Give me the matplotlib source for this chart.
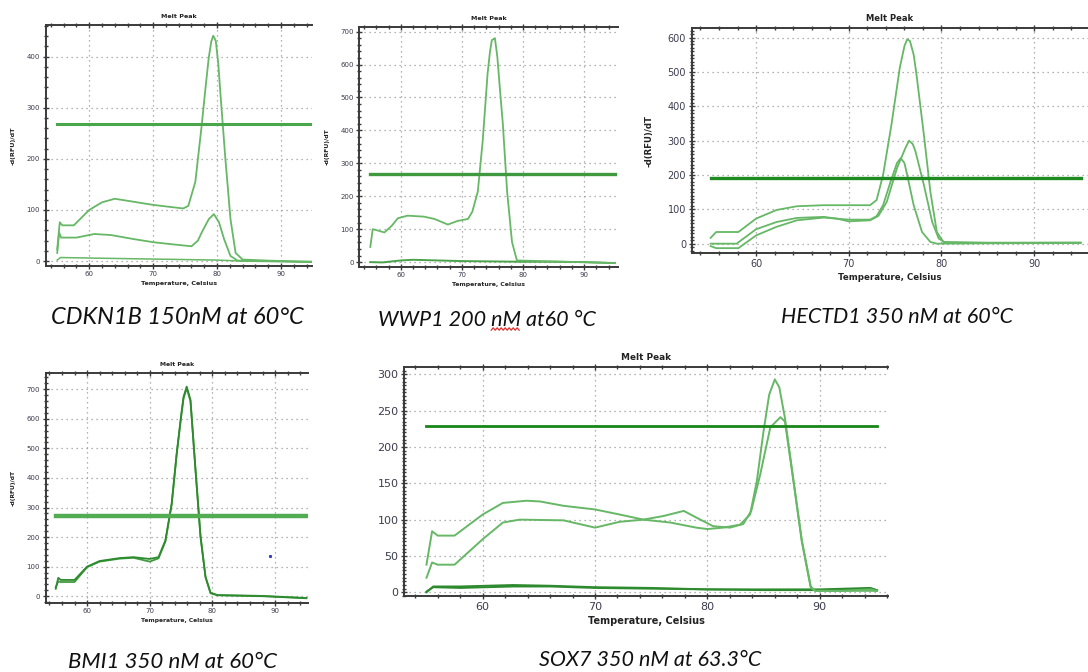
import matplotlib
matplotlib.use("Agg")
import matplotlib.pyplot as plt
from matplotlib.lines import Line2D
from matplotlib.ticker import MultipleLocator

# ---------------- data: melt peak curves (-d(RFU)/dT vs temperature) ----------------
# CDKN1B 150 nM
cdkn_t_a = [55.0, 55.4, 55.8, 57.6, 60.0, 62.0, 64.0, 66.0, 68.0, 70.0, 72.0, 74.7, 75.5, 76.6,
            77.6, 78.2, 78.7, 79.1, 79.4, 79.8, 80.2, 80.5, 81.3, 82.1, 82.9, 84.0, 88.0, 95.0]
cdkn_v_a = [23, 76, 70, 70, 100, 115, 122, 118, 114, 110, 107, 103, 108, 155,
            266, 340, 398, 430, 441, 431, 385, 332, 200, 82, 16, 3, 1, -2]
cdkn_t_b = [55.0, 55.3, 55.6, 58.0, 60.8, 63.4, 67.0, 70.0, 72.9, 76.0, 77.0, 77.6, 78.7, 79.5,
            80.3, 81.1, 82.1, 83.2, 88.0, 95.0]
cdkn_v_b = [16, 56, 46, 46, 53, 51, 43, 37, 33, 29, 40, 56, 82, 92, 76, 43, 10, 1, 0, -1]
cdkn_t_c = [55.0, 55.5, 60.0, 65.0, 70.0, 75.0, 80.0, 84.0, 90.0, 95.0]
cdkn_v_c = [2, 7, 6, 5, 4, 3, 2, 0, -1, -2]
cdkn_thr = 268

# WWP1 200 nM
wwp_t_a = [55.0, 55.4, 56.2, 57.3, 58.5, 59.5, 61.1, 63.8, 65.5, 67.7, 69.3, 71.0, 71.7, 72.6,
           73.4, 74.2, 74.6, 74.9, 75.4, 75.8, 76.2, 76.7, 77.4, 78.2, 79.0, 85.0, 95.0]
wwp_v_a = [46, 100, 96, 90, 110, 133, 141, 138, 131, 114, 125, 131, 153, 214,
           368, 572, 640, 674, 680, 623, 530, 419, 214, 61, 5, 2, -3]
wwp_t_b = [55.0, 57.0, 60.0, 62.0, 66.0, 70.0, 75.0, 80.0, 85.0, 90.0, 95.0]
wwp_v_b = [0, -1, 5, 7, 5, 3, 2, 1, 1, 0, -3]
wwp_thr = 266

# HECTD1 350 nM
hect_t_a = [55.1, 55.7, 58.1, 60.0, 62.2, 64.4, 67.3, 70.0, 72.3, 73.0, 73.7, 74.6, 75.5, 76.0,
            76.3, 76.6, 77.0, 77.3, 78.1, 78.8, 79.5, 80.2, 85.0, 95.0]
hect_v_a = [17, 34, 34, 73, 98, 109, 112, 112, 112, 127, 200, 346, 512, 575,
            595, 590, 550, 493, 317, 151, 34, 5, 3, 3]
hect_t_b = [55.1, 57.9, 60.0, 62.2, 64.4, 67.3, 68.7, 70.0, 72.3, 73.2, 74.1, 75.2, 76.1, 76.5,
            76.9, 77.2, 78.1, 79.0, 79.7, 80.4, 85.0, 95.0]
hect_v_b = [0, 0, 42, 63, 75, 78, 73, 65, 68, 81, 122, 220, 278, 300, 290, 268, 171, 63, 15, 3,
            2, 3]
hect_t_c = [55.1, 55.7, 58.1, 60.0, 62.2, 64.4, 67.3, 70.0, 72.3, 73.0, 73.7, 74.5, 75.2, 75.6,
            76.0, 76.3, 77.0, 77.9, 78.8, 79.5, 85.0, 95.0]
hect_v_c = [-7, -13, -13, 24, 49, 68, 76, 70, 70, 80, 112, 180, 235, 249, 235, 200, 112, 34, 5,
            0, 1, 2]
hect_thr = 190

# BMI1 350 nM
bmi_t = [55.0, 55.4, 55.8, 58.0, 60.0, 62.0, 65.2, 67.4, 70.0, 71.4, 72.5, 73.5, 74.3, 75.0,
         75.4, 75.9, 76.5, 77.3, 78.1, 78.9, 79.7, 80.8, 88.0, 95.0]
bmi_v_a = [25, 62, 55, 55, 100, 119, 129, 132, 126, 132, 189, 313, 483, 610,
           675, 709, 664, 426, 200, 64, 10, 3, 0, -7]
bmi_v_b = [30, 50, 48, 48, 98, 117, 127, 130, 117, 128, 185, 310, 480, 605,
           670, 703, 660, 430, 205, 66, 12, 4, 1, -6]
bmi_thr = 271
bmi_dot_t = [89.2]
bmi_dot_v = [135]

# SOX7 350 nM
sox_t_a = [55.0, 55.5, 56.0, 57.5, 60.0, 61.8, 63.9, 65.1, 67.2, 70.0, 72.2, 74.3, 76.7, 79.0,
           80.0, 81.4, 82.9, 83.8, 84.4, 85.0, 85.5, 86.0, 86.4, 86.9, 87.7, 88.4, 89.2, 89.6,
           92.0, 94.5, 95.1]
sox_v_a = [38, 84, 78, 78, 107, 123, 126, 125, 119, 114, 107, 100, 96, 89,
           87, 89, 93, 107, 153, 222, 272, 293, 282, 240, 150, 72, 8, 2,
           2, 4, 2]
sox_t_b = [55.0, 55.5, 56.0, 57.5, 60.0, 61.8, 63.3, 67.2, 70.0, 72.2, 74.3, 76.1, 77.9, 79.0,
           80.5, 82.0, 83.2, 83.9, 84.7, 85.6, 86.5, 86.9, 87.7, 88.4, 89.2, 89.6, 92.0, 95.1]
sox_v_b = [20, 41, 38, 38, 73, 96, 100, 99, 89, 97, 100, 105, 112, 103,
           91, 89, 94, 112, 162, 227, 241, 235, 148, 70, 6, 2, 2, 2]
sox_t_c = [55.0, 55.6, 58.0, 62.7, 66.0, 70.0, 75.0, 80.0, 85.0, 90.0, 94.5, 95.1]
sox_v_c = [0, 8, 8, 10, 9, 7, 6, 4, 4, 4, 6, 3]
sox_v_d = [1, 7, 6, 8, 8, 6, 5, 4, 3, 3, 5, 2]
sox_thr = 229

captions = ["CDKN1B 150nM at 60°C", "WWP1 200 nM at60 °C", "HECTD1 350 nM at 60°C",
            "BMI1 350 nM at 60°C", "SOX7 350 nM at 63.3°C"]

# ---------------- figure ----------------
W, H = 1088, 672
fig = plt.figure(figsize=(W / 100, H / 100), dpi=100)
fig.patch.set_facecolor("white")

LIGHT = "#66b766"
SPINE = "#3a3a3a"
TICKC = "#3c3c50"


def px_rect(l, t, r, b):
    return [l / W, 1 - b / H, (r - l) / W, (b - t) / H]


def panel(rect, xlim, ylim, ymaj, ymin, fs, title_fs, lab_fs, ylabel=True, ylab_off=30):
    ax = fig.add_axes(px_rect(*rect))
    ax.set_xlim(*xlim)
    ax.set_ylim(*ylim)
    ax.xaxis.set_major_locator(MultipleLocator(10))
    ax.xaxis.set_minor_locator(MultipleLocator(2))
    ax.yaxis.set_major_locator(MultipleLocator(ymaj))
    ax.yaxis.set_minor_locator(MultipleLocator(ymin))
    ax.grid(True, which="major", color="#9a9a9a", linestyle=(0, (1, 3)), linewidth=0.9)
    for s in ("left", "bottom", "top"):
        ax.spines[s].set_color(SPINE)
        ax.spines[s].set_linewidth(1.4)
    ax.spines["right"].set_visible(False)
    ax.tick_params(which="both", direction="inout", colors=SPINE, top=True, right=False,
                   labelcolor=TICKC, labelsize=fs, width=1.0)
    ax.tick_params(which="major", length=4, pad=2)
    ax.tick_params(which="minor", length=2.5)
    ax.set_title("Melt Peak", fontsize=title_fs, fontweight="bold", color="#222222", pad=5)
    ax.set_xlabel("Temperature, Celsius", fontsize=lab_fs, fontweight="bold", color="#222222",
                  labelpad=3)
    if ylabel:
        ax.set_ylabel("-d(RFU)/dT", fontsize=lab_fs, fontweight="bold", color="#222222")
        wpx = rect[2] - rect[0]
        ax.yaxis.set_label_coords(-ylab_off / wpx, 0.5)
    return ax


# CDKN1B
ax1 = panel((45.7, 25, 311.7, 265.7), (53.2, 94.8), (-9, 462), 100, 20, 5, 4.6, 4.6)
ax1.plot(cdkn_t_c, cdkn_v_c, color=LIGHT, lw=1.1)
ax1.plot(cdkn_t_b, cdkn_v_b, color=LIGHT, lw=1.3)
ax1.plot(cdkn_t_a, cdkn_v_a, color=LIGHT, lw=1.3)
ax1.plot([55, 95], [cdkn_thr, cdkn_thr], color="#4aa64a", lw=2.2)

# WWP1
ax2 = panel((359.3, 27.3, 618.3, 266.7), (53.2, 95.6), (-14, 713), 100, 20, 5, 4.6, 4.4)
ax2.plot(wwp_t_b, wwp_v_b, color="#4aa24a", lw=1.4)
ax2.plot(wwp_t_a, wwp_v_a, color=LIGHT, lw=1.3)
ax2.plot([55, 95], [wwp_thr, wwp_thr], color="#3f9a3f", lw=2.4)

# HECTD1
ax3 = panel((691.7, 28.3, 1088, 253.3), (53.06, 95.8), (-28, 627), 100, 10, 7, 6.0, 6.2,
            ylab_off=38)
ax3.plot(hect_t_c, hect_v_c, color=LIGHT, lw=1.3)
ax3.plot(hect_t_b, hect_v_b, color=LIGHT, lw=1.3)
ax3.plot(hect_t_a, hect_v_a, color=LIGHT, lw=1.3)
ax3.plot([55.1, 95], [hect_thr, hect_thr], color="#1f8a1f", lw=2.4)

# BMI1
ax4 = panel((45.7, 373.3, 308.3, 602.7), (53.4, 95.3), (-22, 754), 100, 20, 5, 4.4, 4.3)
ax4.plot(bmi_t, bmi_v_b, color="#3f9a3f", lw=1.3)
ax4.plot(bmi_t, bmi_v_a, color="#2e8a2e", lw=1.3)
ax4.plot([55, 95], [bmi_thr, bmi_thr], color="#52ad52", lw=3.2)
ax4.plot(bmi_dot_t, bmi_dot_v, ls="none", marker="s", ms=1.2, color="#3a3ad0")

# SOX7
ax5 = panel((404, 367.3, 888.3, 596), (53.0, 96.1), (-5.1, 309.6), 50, 5, 8, 6.4, 7.0,
            ylabel=False)
ax5.plot(sox_t_c, sox_v_c, color="#2e8a2e", lw=1.4)
ax5.plot(sox_t_c, sox_v_d, color="#2e8a2e", lw=1.4)
ax5.plot(sox_t_b, sox_v_b, color=LIGHT, lw=1.4)
ax5.plot(sox_t_a, sox_v_a, color=LIGHT, lw=1.4)
ax5.plot([55, 95.1], [sox_thr, sox_thr], color="#1a861a", lw=2.0)

# captions under each chart
cap_pos = [(177, 318), (487, 320), (897, 317), (173, 662), (650, 660)]
cap_size = [17.0, 15.5, 15.5, 16.0, 15.5]
cap_texts = []
for text, (cx, cy), fsz in zip(captions, cap_pos, cap_size):
    cap_texts.append(fig.text(cx / W, 1 - cy / H, text, ha="center", va="center", fontsize=fsz,
                              family="Lato", style="italic", color="#111111"))

# spell-check squiggle under "nM" in the WWP1 caption
fig.canvas.draw()
renderer = fig.canvas.get_renderer()
wtxt = cap_texts[1]
full = wtxt.get_window_extent(renderer)
probe = fig.text(0, 0, "WWP1 200 ", fontsize=cap_size[1], family="Lato", style="italic")
probe2 = fig.text(0, 0, "WWP1 200 nM", fontsize=cap_size[1], family="Lato", style="italic")
x0 = full.x0 + probe.get_window_extent(renderer).width
x1 = full.x0 + probe2.get_window_extent(renderer).width
probe.remove()
probe2.remove()
ybase = full.y0 + 1
xs, ys = [], []
step = 2.0
k = 0
x = x0
while x <= x1:
    xs.append(x / W)
    ys.append((ybase + (1.2 if k % 2 else -1.2)) / H)
    x += step
    k += 1
fig.add_artist(Line2D(xs, ys, transform=fig.transFigure, color="#e03030", lw=0.9))

fig.savefig("out.png", dpi=100, facecolor="white")
